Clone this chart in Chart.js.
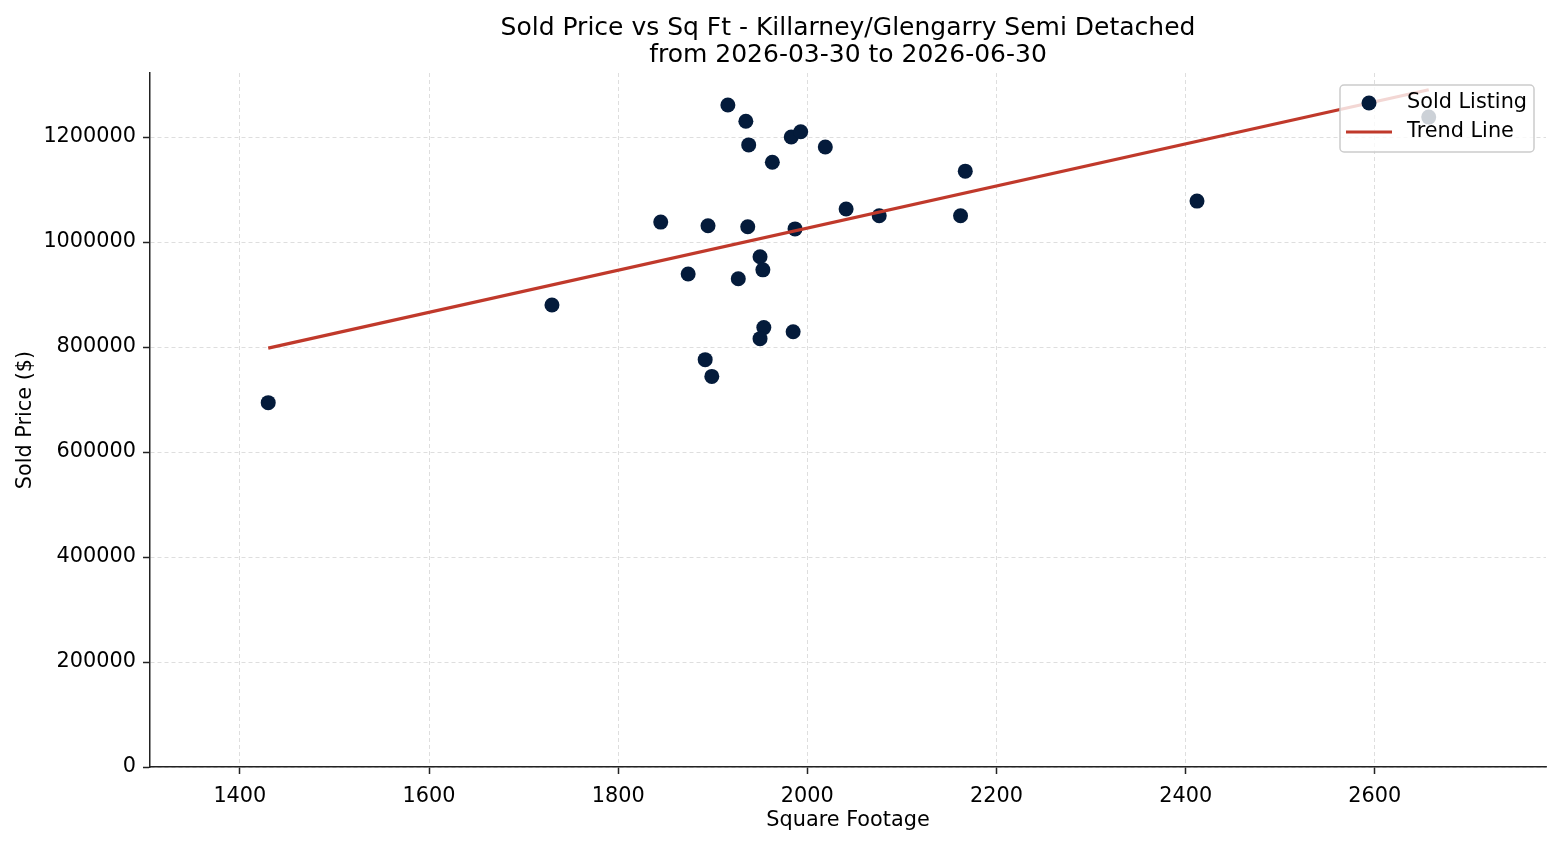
<!DOCTYPE html>
<html>
<head>
<meta charset="utf-8">
<title>Sold Price vs Sq Ft</title>
<script src="https://cdn.jsdelivr.net/npm/chart.js@4.4.1/dist/chart.umd.min.js"></script>
<style>
  html, body { margin: 0; padding: 0; background: #fff; }
  #wrap { width: 1560px; height: 845px; }
</style>
</head>
<body>
<div id="wrap"><canvas id="chart" width="1560" height="845"></canvas></div>
<script>
// Sold listings: square footage and sold price
const sqft = [1430, 1730, 1845, 1874, 1892, 1899, 1895, 1916, 1927, 1935, 1938, 1937, 1950, 1953,
  1954, 1950, 1963, 1983, 1993, 1985, 1987, 2019, 2041, 2076, 2162, 2167, 2412, 2657];
const price = [694000, 880000, 1038000, 939000, 776000, 744000, 1031000, 1261000, 930000, 1230000,
  1185000, 1029000, 972000, 947000, 837000, 816000, 1152000, 1200000, 1210000, 829000, 1025000,
  1181000, 1063000, 1050000, 1050000, 1135000, 1078000, 1238000];

// Trend line end points
const trendX = [1430, 2657];
const trendY = [798000, 1290000];

// Tick labels
const xTicks = [1400, 1600, 1800, 2000, 2200, 2400, 2600];
const yTicks = [0, 200000, 400000, 600000, 800000, 1000000, 1200000];

const titleLines = ['Sold Price vs Sq Ft - Killarney/Glengarry Semi Detached', 'from 2026-03-30 to 2026-06-30'];

const FONT = "'DejaVu Sans', sans-serif";
const FS = 20.8;
const NAVY = '#041b3b';
const RED = '#c0392b';

// Legend drawn inside the plot, top right, like the original
const innerLegend = {
  id: 'innerLegend',
  afterDraw(chart) {
    const { ctx, chartArea } = chart;
    const w = 194, h = 67;
    const x = chartArea.right - 12 - w;
    const y = chartArea.top + 12;
    ctx.save();
    ctx.beginPath();
    ctx.roundRect(x, y, w, h, 4);
    ctx.fillStyle = 'rgba(255,255,255,0.8)';
    ctx.fill();
    ctx.strokeStyle = '#cccccc';
    ctx.lineWidth = 1.5;
    ctx.stroke();

    // scatter marker
    ctx.beginPath();
    ctx.arc(x + 29, y + 18, 7.5, 0, Math.PI * 2);
    ctx.fillStyle = NAVY;
    ctx.fill();

    // line marker
    ctx.beginPath();
    ctx.moveTo(x + 6, y + 47);
    ctx.lineTo(x + 52, y + 47);
    ctx.strokeStyle = RED;
    ctx.lineWidth = 3;
    ctx.stroke();

    ctx.fillStyle = '#000';
    ctx.font = FS + 'px ' + FONT;
    ctx.textBaseline = 'middle';
    ctx.textAlign = 'left';
    ctx.fillText(chart.data.datasets[0].label, x + 67, y + 18);
    ctx.fillText(chart.data.datasets[1].label, x + 67, y + 47);
    ctx.restore();
  }
};

const gridOpts = {
  color: '#d6d6d6',
  lineWidth: 0.8,
  tickColor: '#222',
  tickLength: 7,
  tickWidth: 1.5,
  tickBorderDash: [1, 0]
};

new Chart(document.getElementById('chart'), {
  type: 'scatter',
  data: {
    datasets: [
      {
        label: 'Sold Listing',
        data: sqft.map((v, i) => ({ x: v, y: price[i] })),
        backgroundColor: NAVY,
        borderColor: NAVY,
        pointRadius: 7.5,
        pointBorderWidth: 0,
        order: 1
      },
      {
        label: 'Trend Line',
        type: 'line',
        data: trendX.map((v, i) => ({ x: v, y: trendY[i] })),
        borderColor: RED,
        borderWidth: 3.2,
        pointRadius: 0,
        fill: false,
        order: 0
      }
    ]
  },
  options: {
    responsive: false,
    animation: false,
    devicePixelRatio: 1,
    layout: { padding: { left: 0, right: 14, top: 0, bottom: 0 } },
    plugins: {
      legend: { display: false },
      tooltip: { enabled: false },
      title: {
        display: true,
        fullSize: false,
        text: titleLines,
        color: '#000',
        font: { family: FONT, size: 25, weight: 'normal', lineHeight: 1.08 },
        padding: { top: 15, bottom: 4 }
      }
    },
    scales: {
      x: {
        type: 'linear',
        min: 1305,
        max: 2781,
        afterBuildTicks: (s) => { s.ticks = xTicks.map(v => ({ value: v })); },
        afterFit: (s) => { s.height = 78; },
        ticks: {
          color: '#000',
          font: { family: FONT, size: FS },
          padding: 10,
          maxRotation: 0,
          callback: (v) => String(v)
        },
        grid: gridOpts,
        border: { display: true, color: '#222', width: 1.5, dash: [4, 3] },
        title: {
          display: true,
          text: 'Square Footage',
          color: '#000',
          font: { family: FONT, size: FS },
          padding: { top: 12, bottom: 12 }
        }
      },
      y: {
        type: 'linear',
        min: 0,
        max: 1322000,
        afterBuildTicks: (s) => { s.ticks = yTicks.map(v => ({ value: v })); },
        afterFit: (s) => { s.width = 150; },
        ticks: {
          color: '#000',
          font: { family: FONT, size: FS },
          padding: 7,
          callback: (v) => String(v)
        },
        grid: gridOpts,
        border: { display: true, color: '#222', width: 1.5, dash: [4, 3] },
        title: {
          display: true,
          text: 'Sold Price ($)',
          color: '#000',
          font: { family: FONT, size: FS },
          padding: { top: 13.5, bottom: 13.5 }
        }
      }
    }
  },
  plugins: [innerLegend]
});
</script>
</body>
</html>
